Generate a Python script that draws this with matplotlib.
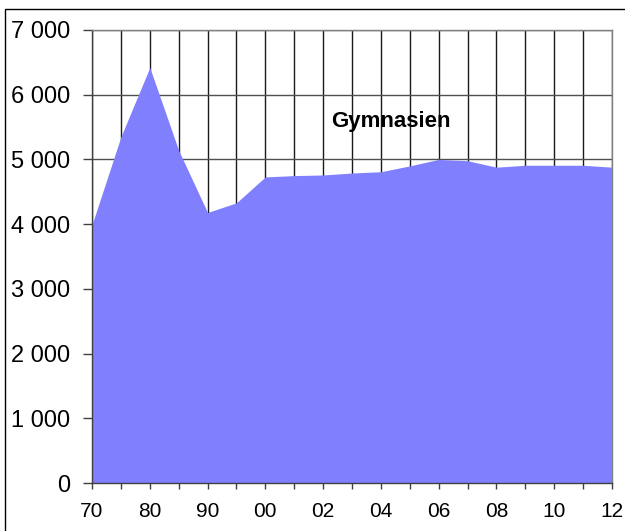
import matplotlib.pyplot as plt
from matplotlib.patches import Rectangle

plt.rcParams["font.family"] = ["Liberation Sans", "DejaVu Sans"]

# --- data ---------------------------------------------------------------------
years = ["70", "75", "80", "85", "90", "95", "00", "01", "02", "03", "04",
         "05", "06", "07", "08", "09", "10", "11", "12"]
gymnasien = [3990, 5350, 6420, 5140, 4180, 4330, 4730, 4750, 4760, 4790, 4810,
             4900, 5000, 4980, 4880, 4910, 4910, 4910, 4880]
yticks = [0, 1000, 2000, 3000, 4000, 5000, 6000, 7000]
ytick_labels = ["0", "1 000", "2 000", "3 000", "4 000", "5 000", "6 000", "7 000"]

# --- figure -------------------------------------------------------------------
fig = plt.figure(figsize=(6.25, 5.31), dpi=100)
ax = fig.add_axes([92 / 625, 1 - 483 / 531, 520 / 625, 453 / 531])

x = list(range(len(years)))
ax.fill_between(x, gymnasien, 0, color="#8080FF", lw=0, zorder=2)

ax.set_xlim(0, len(years) - 1)
ax.set_ylim(0, 7000)

# gridlines drawn under the area
for xi in x:
    ax.axvline(xi, color="#1a1a1a", lw=1, zorder=1)
for yv in yticks:
    ax.axhline(yv, color="#505050", lw=1, zorder=1)

ax.set_yticks(yticks)
ax.set_yticklabels(ytick_labels, fontsize=17)
ax.set_xticks(x)
ax.set_xticklabels([y if i % 2 == 0 else "" for i, y in enumerate(years)],
                   fontsize=15)
ax.tick_params(axis="y", length=6.5, width=1, color="#404040", pad=9.4)
ax.tick_params(axis="x", length=4.3, width=1, color="#404040", pad=9.5)

for side in ["top", "right"]:
    ax.spines[side].set_color("#808080")
for side in ["left", "bottom"]:
    ax.spines[side].set_color("#404040")
for s in ax.spines.values():
    s.set_linewidth(1)
    s.set_zorder(3)

ax.text(10.35, 5506, "Gymnasien", fontsize=16, fontweight="bold",
        ha="center", va="baseline", zorder=4)

# outer frame
fig.add_artist(Rectangle((5 / 625, -0.1), 1.2, 1 - 9 / 531 + 0.1,
                         transform=fig.transFigure, fill=False,
                         edgecolor="black", lw=1))

fig.savefig("out.png", dpi=100)
